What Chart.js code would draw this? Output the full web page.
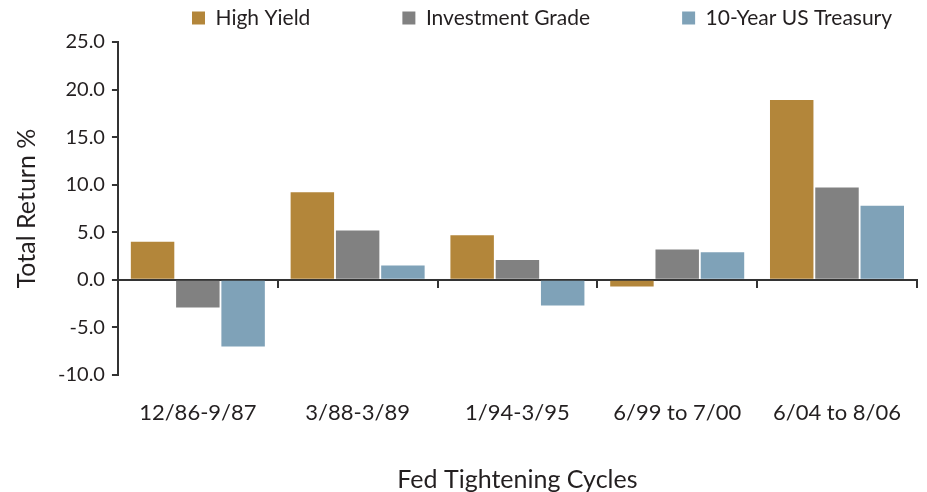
<!DOCTYPE html>
<html>
<head>
<meta charset="utf-8">
<script src="https://cdn.jsdelivr.net/npm/chart.js@4.4.1/dist/chart.umd.min.js"></script>
<style>
  html, body { margin: 0; padding: 0; background: #ffffff; }
  #wrap { width: 927px; height: 492px; position: relative; }
</style>
</head>
<body>
<div id="wrap"><canvas id="c"></canvas></div>
<script>
// ---- data ----
const categories = ['12/86-9/87', '3/88-3/89', '1/94-3/95', '6/99 to 7/00', '6/04 to 8/06'];
const highYield = [4.0, 9.2, 4.7, -0.7, 18.9];
const investmentGrade = [-2.9, 5.2, 2.1, 3.2, 9.7];
const treasury10y = [-7.0, 1.5, -2.7, 2.9, 7.8];
const seriesNames = ['High Yield', 'Investment Grade', '10-Year US Treasury'];
const yTicks = { min: -10, max: 25, step: 5 };
const xTitle = 'Fed Tightening Cycles';
const yTitle = 'Total Return %';

const FONT = 'Lato, "Open Sans", sans-serif';
const TEXT = '#231f20';
const AXIS = '#333333';
const LEGEND_PAD = 92;

// legend placement tweak (layout only)
const legendShift = {
  id: 'legendShift',
  afterLayout(chart) {
    const lg = chart.legend;
    if (!lg) return;
    lg.top = 7.5 - LEGEND_PAD;
    lg.left = 192 - LEGEND_PAD;
    lg.right = 5000;
  }
};

new Chart(document.getElementById('c'), {
  type: 'bar',
  data: {
    labels: categories,
    datasets: [
      { label: seriesNames[0], data: highYield, backgroundColor: '#b3863a', xAxisID: 'x' },
      { label: seriesNames[1], data: investmentGrade, backgroundColor: '#818181', xAxisID: 'x' },
      { label: seriesNames[2], data: treasury10y, backgroundColor: '#7fa2b8', xAxisID: 'x' }
    ]
  },
  options: {
    responsive: true,
    maintainAspectRatio: false,
    animation: false,
    datasets: { bar: { categoryPercentage: 0.85, barPercentage: 0.96 } },
    layout: { padding: { top: 0, left: 6, right: 10, bottom: -3 } },
    plugins: {
      tooltip: { enabled: false },
      legend: {
        position: 'top',
        align: 'start',
        maxHeight: 42,
        labels: {
          boxWidth: 13,
          boxHeight: 13,
          padding: LEGEND_PAD,
          color: TEXT,
          font: { family: FONT, size: 21 }
        }
      }
    },
    scales: {
      x: {
        type: 'category',
        position: 'bottom',
        grid: { display: false, drawTicks: false },
        border: { display: false },
        ticks: { color: TEXT, font: { family: FONT, size: 22 }, padding: 25, maxRotation: 0 },
        title: { display: true, text: xTitle, color: TEXT, font: { family: FONT, size: 25 }, padding: { top: 13.6, bottom: 0 } }
      },
      x0: {
        type: 'category',
        position: { y: 0 },
        offset: true,
        grid: { drawOnChartArea: false, drawTicks: true, tickLength: 7, color: AXIS, lineWidth: 2, offset: true },
        border: { display: true, color: AXIS, width: 2 },
        ticks: { display: false }
      },
      y: {
        min: yTicks.min,
        max: yTicks.max,
        ticks: { stepSize: yTicks.step, color: TEXT, font: { family: FONT, size: 20 }, padding: 7,
                 callback: v => Number(v).toFixed(1) },
        grid: { drawOnChartArea: false, drawTicks: true, tickLength: 6, color: AXIS, lineWidth: 2 },
        border: { display: true, color: AXIS, width: 2 },
        title: { display: true, text: yTitle, color: TEXT, font: { family: FONT, size: 25 }, padding: { top: 6, bottom: 9 } }
      }
    }
  },
  plugins: [legendShift]
});
</script>
</body>
</html>
